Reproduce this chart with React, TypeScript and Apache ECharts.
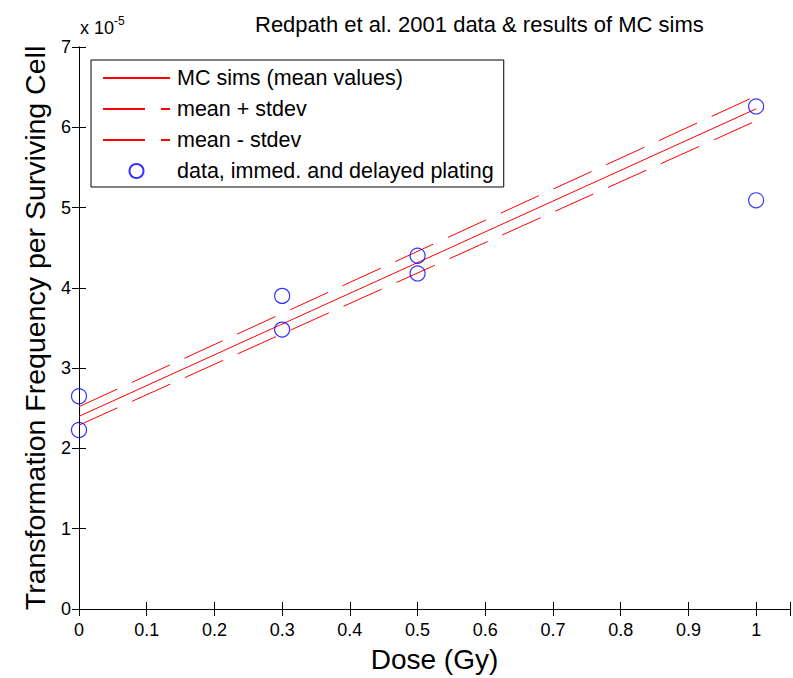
import React, { useEffect, useRef } from "react";
import * as echarts from "echarts";

const mcDose = [0, 1];
const mcMean = [2.4, 6.23];
const mcPlus = [2.52, 6.39];
const mcMinus = [2.29, 6.08];
const dataDose = [0, 0, 0.3, 0.3, 0.5, 0.5, 1, 1];
const dataTF = [2.65, 2.23, 3.9, 3.48, 4.4, 4.18, 6.26, 5.09];
const xTicks = [0, 0.1, 0.2, 0.3, 0.4, 0.5, 0.6, 0.7, 0.8, 0.9, 1];

const FONT = "Liberation Sans";

export default function App() {
  const ref = useRef<HTMLDivElement>(null);
  useEffect(() => {
    const chart = echarts.init(ref.current!, null, { renderer: "svg" });
    const pair = (xs: number[], ys: number[]) => xs.map((x, i) => [x, ys[i]]);
    const axisLine = { show: true, lineStyle: { color: "#000", width: 1 } };
    const axisTick = { show: true, inside: true, length: 7, lineStyle: { color: "#000" } };
    const noSym = { opacity: 0 };
    chart.setOption({
      animation: false,
      backgroundColor: "#fff",
      title: {
        text: "Redpath et al. 2001 data & results of MC sims",
        left: 250,
        top: 8,
        textStyle: { fontFamily: FONT, fontSize: 22, fontWeight: "normal", color: "#000" },
      },
      graphic: [
        {
          type: "text",
          left: 80,
          top: 15,
          style: {
            text: "{a|x 10}{b|-5}",
            rich: {
              a: { fontFamily: FONT, fontSize: 18, color: "#000", verticalAlign: "bottom" },
              b: { fontFamily: FONT, fontSize: 12, color: "#000", verticalAlign: "top", padding: [0, 0, 10, 0] },
            },
          },
        },
      ],
      legend: {
        orient: "vertical",
        left: 91,
        top: 60,
        borderColor: "#000",
        borderWidth: 1,
        backgroundColor: "#fff",
        padding: [7, 10, 5, 11],
        itemGap: 9,
        itemWidth: 67,
        itemHeight: 14,
        textStyle: { fontFamily: FONT, fontSize: 21.5, color: "#000", lineHeight: 18, padding: [0, 0, 0, 2] },
        data: [
          { name: "MC sims (mean values)", itemStyle: noSym },
          { name: "mean + stdev", itemStyle: noSym },
          { name: "mean - stdev", itemStyle: noSym },
          { name: "data, immed. and delayed plating" },
        ],
      },
      grid: { left: 79, top: 47, width: 716, height: 565, containLabel: false },
      xAxis: [
        {
          type: "value",
          min: 0,
          max: 1.05,
          interval: 0.1,
          position: "bottom",
          name: "Dose (Gy)",
          nameLocation: "middle",
          nameGap: 36,
          nameTextStyle: { fontFamily: FONT, fontSize: 28, color: "#000" },
          axisLabel: {
            fontFamily: FONT,
            fontSize: 18,
            color: "#000",
            margin: 12,
            formatter: (v: number) => {
              const t = xTicks.find((x) => Math.abs(x - v) < 1e-6);
              return t === undefined ? "" : String(t);
            },
          },
          axisLine,
          axisTick,
          splitLine: { show: false },
        },
        {
          type: "value",
          min: 0,
          max: 1.05,
          interval: 0.1,
          position: "top",
          axisLabel: { show: false },
          axisLine,
          axisTick,
          splitLine: { show: false },
        },
      ],
      yAxis: [
        {
          type: "value",
          min: 0,
          max: 7,
          interval: 1,
          position: "left",
          name: "Transformation Frequency per Surviving Cell",
          nameLocation: "middle",
          nameGap: 30,
          nameTextStyle: { fontFamily: FONT, fontSize: 28.5, color: "#000" },
          axisLabel: { fontFamily: FONT, fontSize: 18, color: "#000", margin: 8 },
          axisLine,
          axisTick,
          splitLine: { show: false },
        },
        {
          type: "value",
          min: 0,
          max: 7,
          interval: 1,
          position: "right",
          axisLabel: { show: false },
          axisLine,
          axisTick,
          splitLine: { show: false },
        },
      ],
      series: [
        {
          name: "MC sims (mean values)",
          type: "line",
          data: pair(mcDose, mcMean),
          showSymbol: false,
          symbol: "none",
          lineStyle: { color: "#ff0000", width: 1 },
          itemStyle: { color: "#ff0000" },
        },
        {
          name: "mean + stdev",
          type: "line",
          data: pair(mcDose, mcPlus),
          showSymbol: false,
          symbol: "none",
          lineStyle: { color: "#ff0000", width: 1, type: [42, 16] },
          itemStyle: { color: "#ff0000" },
        },
        {
          name: "mean - stdev",
          type: "line",
          data: pair(mcDose, mcMinus),
          showSymbol: false,
          symbol: "none",
          lineStyle: { color: "#ff0000", width: 1, type: [42, 16] },
          itemStyle: { color: "#ff0000" },
        },
        {
          name: "data, immed. and delayed plating",
          type: "scatter",
          data: pair(dataDose, dataTF),
          symbol: "circle",
          symbolSize: 15,
          itemStyle: { color: "none", borderColor: "#0000ff", borderWidth: 1.2 },
          z: 3,
        },
      ],
    });
    return () => chart.dispose();
  }, []);
  return (
    <div
      ref={ref}
      style={{ position: "fixed", left: 0, top: 0, width: 793, height: 678, background: "#fff" }}
    />
  );
}
